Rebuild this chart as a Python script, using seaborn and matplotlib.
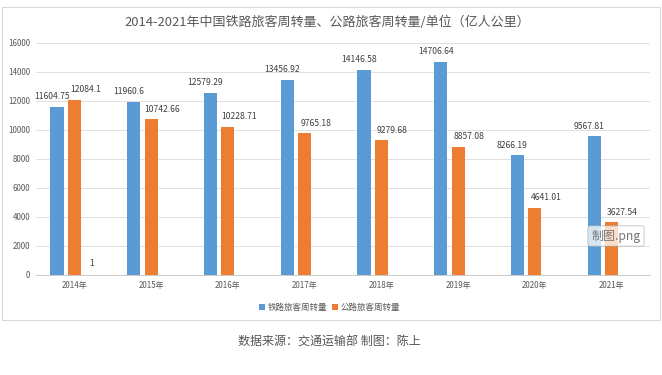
import pandas as pd
import numpy as np
import seaborn as sns
import matplotlib.pyplot as plt
from matplotlib.patches import Rectangle, Patch

# datos
years = ['2014年', '2015年', '2016年', '2017年', '2018年', '2019年', '2020年', '2021年']
rail = [11604.75, 11960.6, 12579.29, 13456.92, 14146.58, 14706.64, 8266.19, 9567.81]
road = [12084.1, 10742.66, 10228.71, 9765.18, 9279.68, 8857.08, 4641.01, 3627.54]
extra = [1, np.nan, np.nan, np.nan, np.nan, np.nan, np.nan, np.nan]  # serie vacía (solo "1" en 2014)
series = ['铁路旅客周转量', '公路旅客周转量', '系列3']
colors = ['#5B9BD5', '#ED7D31', '#A5A5A5']

df = pd.DataFrame({
    'year': years * 3,
    'serie': [series[0]] * 8 + [series[1]] * 8 + [series[2]] * 8,
    'valor': rail + road + extra,
})

sns.set_theme(style='white')
plt.rcParams['font.family'] = ['Noto Sans CJK SC', 'DejaVu Sans']
gris = '#595959'

fig = plt.figure(figsize=(662 / 72, 375 / 72), dpi=72)
ax = fig.add_axes([36 / 662, 1 - 275 / 375, 614 / 662, 232 / 375])

sns.barplot(data=df, x='year', y='valor', hue='serie', hue_order=series,
            palette=colors, saturation=1, width=0.68, gap=0.25, linewidth=0,
            errorbar=None, legend=False, ax=ax)

ax.set_ylim(0, 16000)
ax.set_xlim(-0.5, 7.5)
ax.set_yticks(range(0, 16001, 2000))
ax.yaxis.grid(True, color='#D9D9D9', linewidth=0.8)
ax.set_axisbelow(True)
for s in ['left', 'right', 'top']:
    ax.spines[s].set_visible(False)
ax.spines['bottom'].set_color('#BFBFBF')
ax.spines['bottom'].set_linewidth(0.8)
ax.set_xlabel('')
ax.set_ylabel('')
ax.tick_params(axis='y', length=0, labelsize=8, labelcolor=gris, pad=6)
ax.tick_params(axis='x', which='major', length=0, labelsize=8, labelcolor=gris, pad=6)
ax.set_xticks(np.arange(-0.5, 8, 1), minor=True)
ax.tick_params(axis='x', which='minor', length=4, color='#BFBFBF', width=0.8)

# etiquetas de datos (desplazadas como en el original)
offsets = [(-5, 10), (11, 10), (0, 11)]
for cont, off in zip(ax.containers, offsets):
    for p in cont:
        h = p.get_height()
        if np.isnan(h):
            continue
        txt = ('%.2f' % h).rstrip('0').rstrip('.')
        ax.annotate(txt, (p.get_x() + p.get_width() / 2, h), xytext=off,
                    textcoords='offset points', ha='center', va='center',
                    fontsize=8.5, color='#404040')

# leyenda solo con las dos series
handles = [Patch(facecolor=c, label=s) for c, s in zip(colors[:2], series[:2])]
fig.legend(handles=handles, loc='center', bbox_to_anchor=(0.497, 1 - 307 / 375),
           ncol=2, frameon=False, fontsize=8.5, labelcolor=gris,
           handlelength=0.8, handleheight=0.8, handletextpad=0.3, columnspacing=0.4)

fig.text(0.495, 1 - 22 / 375, '2014-2021年中国铁路旅客周转量、公路旅客周转量/单位（亿人公里）',
         ha='center', va='center', fontsize=13, color=gris)

# marco del gráfico
fig.patches.append(Rectangle((2 / 662, 1 - 320 / 375), 658 / 662, 313 / 375,
                             transform=fig.transFigure, fill=False,
                             edgecolor='#D9D9D9', linewidth=1))

fig.text(0.497, 1 - 342 / 375, '数据来源：交通运输部 制图：陈上',
         ha='center', va='center', fontsize=12, color='#555555')

# recuadro flotante "制图.png"
fig.text(616 / 662, 1 - 236 / 375, '制图.png', ha='center', va='center',
         fontsize=12, color='#777777',
         bbox=dict(boxstyle='round,pad=0.3,rounding_size=0.15', facecolor='white',
                   alpha=0.75, edgecolor='#AAAAAA', linewidth=0.8))

fig.savefig('out.png', dpi=72)
